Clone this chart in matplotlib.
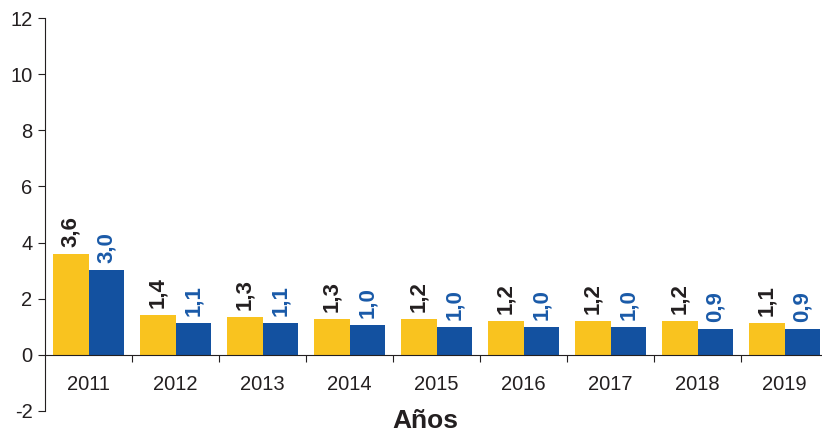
import matplotlib
matplotlib.use("Agg")
import matplotlib.pyplot as plt
import numpy as np

plt.rcParams['font.family'] = ['Liberation Sans', 'DejaVu Sans']
plt.rcParams['axes.unicode_minus'] = False

years = ["2011", "2012", "2013", "2014", "2015", "2016", "2017", "2018", "2019"]
serie_a = [3.6, 1.4, 1.3, 1.3, 1.2, 1.2, 1.2, 1.2, 1.1]
serie_b = [3.0, 1.1, 1.1, 1.0, 1.0, 1.0, 1.0, 0.9, 0.9]
# heights drawn (slightly off the rounded labels)
alto_a = [3.6, 1.42, 1.35, 1.28, 1.26, 1.2, 1.2, 1.2, 1.13]
alto_b = [3.02, 1.13, 1.12, 1.05, 0.98, 0.98, 0.98, 0.92, 0.92]

amarillo = "#F9C31F"
azul = "#1351A0"
gris = "#231F20"

fig = plt.figure(figsize=(8.22, 4.32), dpi=100)
ax = fig.add_axes([45 / 822, 21 / 432, 783 / 822, 393 / 432])

x = np.arange(len(years))
w = 0.41
ax.bar(x - w / 2, alto_a, w, color=amarillo, zorder=2)
ax.bar(x + w / 2, alto_b, w, color=azul, zorder=2)

for i in range(len(years)):
    ax.text(x[i] - w / 2, alto_a[i] + 0.25, f"{serie_a[i]:.1f}".replace(".", ","),
            rotation=90, ha="center", va="bottom", fontsize=16, fontweight="bold", color=gris)
    ax.text(x[i] + w / 2, alto_b[i] + 0.25, f"{serie_b[i]:.1f}".replace(".", ","),
            rotation=90, ha="center", va="bottom", fontsize=16, fontweight="bold", color="#1A5AA8")
    ax.text(x[i], -1.05, years[i], ha="center", va="center", fontsize=14.5, color=gris)

ax.set_xlim(-0.5, len(years) - 0.5)
ax.set_ylim(-2, 12)
ax.set_yticks(range(-2, 13, 2))
ax.tick_params(axis="y", length=5, color=gris, labelsize=14.5, labelcolor=gris, pad=4)

ax.spines["top"].set_visible(False)
ax.spines["right"].set_visible(False)
ax.spines["left"].set_color(gris)
ax.spines["bottom"].set_position(("data", 0))
ax.spines["bottom"].set_color(gris)
ax.spines["bottom"].set_zorder(3)
ax.set_xticks(x[:-1] + 0.5)
ax.set_xticklabels([])
ax.tick_params(axis="x", length=5, color=gris)

fig.text(425 / 822, 1 - 421 / 432, "Años", ha="center", va="center",
         fontsize=19, fontweight="bold", color=gris)

fig.savefig("out.png", dpi=100)
